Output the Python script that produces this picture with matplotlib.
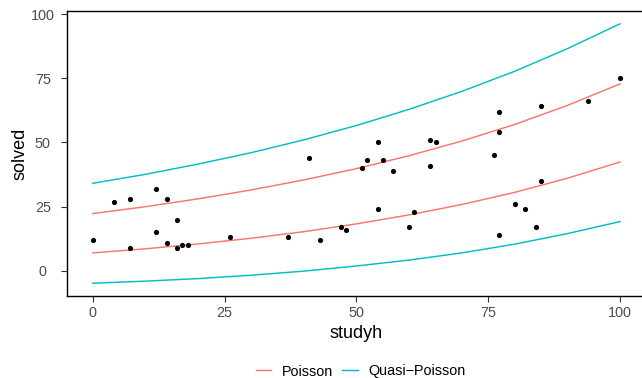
import matplotlib
matplotlib.use("Agg")
import matplotlib.pyplot as plt
from matplotlib.lines import Line2D

plt.rcParams['font.family'] = ['Liberation Sans', 'DejaVu Sans']

# Data points
studyh = [0, 4, 7, 7, 12, 12, 14, 14, 16, 16, 17, 18, 26, 37, 41, 43, 47, 48,
          51, 52, 54, 54, 55, 57, 60, 61, 64, 64, 65, 76, 77, 77, 77, 80, 82,
          84, 85, 85, 94, 100]
solved = [12, 27, 28, 9, 32, 15, 28, 11, 20, 9, 10, 10, 13, 13, 44, 12, 17, 16,
          40, 43, 50, 24, 43, 39, 17, 23, 51, 41, 50, 45, 62, 54, 14, 26, 24,
          17, 64, 35, 66, 75]

# Band curves
curve_x = [0, 10, 20, 30, 40, 50, 60, 70, 80, 90, 100]
poisson_upper = [22.3, 25.0, 28.05, 31.5, 35.4, 39.8, 44.85, 50.55, 57.0, 64.4, 72.8]
poisson_lower = [7.0, 8.6, 10.5, 12.7, 15.25, 18.3, 21.8, 25.85, 30.55, 36.05, 42.4]
quasi_upper = [34.1, 37.6, 41.6, 46.0, 51.0, 56.6, 62.9, 69.9, 77.7, 86.5, 96.2]
quasi_lower = [-4.8, -4.0, -3.0, -1.7, -0.1, 1.9, 4.2, 7.0, 10.4, 14.5, 19.2]

RED = '#F8766D'
TEAL = '#00BFC4'

fig = plt.figure(figsize=(6.42, 3.78), dpi=100)
W, H = 642, 378
left_px, right_px, top_px, bottom_px = 66.5, 646.4, 10.7, 296.3
ax = fig.add_axes([left_px / W, 1 - bottom_px / H,
                   (right_px - left_px) / W, (bottom_px - top_px) / H])

ax.plot(curve_x, poisson_upper, color=RED, lw=1.05)
ax.plot(curve_x, poisson_lower, color=RED, lw=1.05)
ax.plot(curve_x, quasi_upper, color=TEAL, lw=1.05)
ax.plot(curve_x, quasi_lower, color=TEAL, lw=1.05)
ax.scatter(studyh, solved, s=14, color='black', zorder=3, linewidths=0)

ax.set_xlim(-5, 105)
ax.set_ylim(-9.9, 101.3)
ax.set_xticks([0, 25, 50, 75, 100])
ax.set_yticks([0, 25, 50, 75, 100])
ax.tick_params(axis='both', length=4.3, width=0.8, color='#333333',
               labelsize=10.4, labelcolor='#4D4D4D')
ax.tick_params(axis='x', pad=2.5)
ax.tick_params(axis='y', pad=12.8)
for lab in ax.get_yticklabels():
    lab.set_horizontalalignment('center')
for s in ax.spines.values():
    s.set_linewidth(1.0)
    s.set_color('black')

ax.set_xlabel('studyh', fontsize=13, labelpad=3.5)
ax.set_ylabel('solved', fontsize=13, labelpad=2)

handles = [Line2D([], [], color=RED, lw=1.05), Line2D([], [], color=TEAL, lw=1.05)]
fig.legend(handles, ['Poisson', 'Quasi\u2212Poisson'], loc='center',
           bbox_to_anchor=(360.5 / W, 1 - 371.5 / H), ncol=2, frameon=False,
           fontsize=10.4, handlelength=1.1, handletextpad=0.7, columnspacing=0.65)

fig.savefig('out.png', dpi=100)
